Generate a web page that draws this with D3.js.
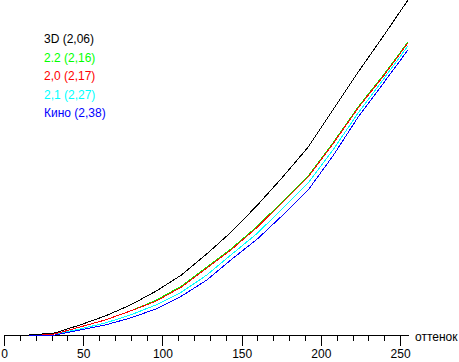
<!DOCTYPE html>
<html>
<head>
<meta charset="utf-8">
<script src="https://cdn.jsdelivr.net/npm/d3@7"></script>
<style>
  body { margin: 0; background: #fff; }
  svg text { font-family: "Liberation Sans", Arial, sans-serif; font-size: 12px; }
</style>
</head>
<body>
<div id="chart"></div>
<script>
// input levels (оттенок)
var levels = [0, 16, 32, 48, 64, 80, 96, 112, 128, 144, 160, 176, 192, 208, 224, 240, 255];

// relative brightness, % of max
var black3D  = [0, 0, 0.6, 3.0, 5.7, 9.0, 13.1, 17.9, 24.2, 31.0, 38.8, 47.2, 56.1, 67.5, 78.8, 89.6, 100.0];
var green22  = [0, 0, 0.3, 2.4, 4.5, 7.2, 10.4, 14.6, 20.3, 26.0, 32.5, 40.0, 47.5, 57.6, 68.4, 77.9, 87.5];
var red20    = [0, 0, 0.3, 2.4, 4.5, 7.2, 10.1, 14.3, 20.0, 25.7, 32.2, 39.7, 47.2, 57.3, 68.1, 77.6, 87.2];
var cyan21   = [0, 0, 0.3, 1.8, 3.6, 6.0, 9.0, 12.8, 17.9, 24.2, 30.4, 37.9, 45.4, 55.5, 66.6, 76.7, 86.3];
var blueKino = [0, 0, 0, 1.5, 3.0, 5.1, 7.8, 11.6, 16.4, 22.7, 28.7, 35.8, 43.3, 53.7, 65.4, 75.5, 85.1];

var seriesNames = ["3D (2,06)", "2.2 (2,16)", "2,0 (2,17)", "2,1 (2,27)", "Кино (2,38)"];
var seriesColors = ["#000000", "#00ff00", "#ff0000", "#00ffff", "#0000ff"];
var seriesValues = [black3D, green22, red20, cyan21, blueKino];

var xTicks = [0, 50, 100, 150, 200, 250];
var xTitle = "оттенок";

var width = 459, height = 362;

var svg = d3.select("#chart")
    .append("svg")
      .attr("width", width)
      .attr("height", height);

var x = d3.scaleLinear()
    .domain([0, 255])
    .range([4, 408]);

var y = d3.scaleLinear()
    .domain([0, 100])
    .range([335, 0]);

// minor ticks every 10
svg.append("g")
    .attr("transform", "translate(0,335)")
    .call(d3.axisBottom(x).tickValues(d3.range(0, 256, 10)).tickSize(6).tickSizeOuter(0).tickFormat(""))
    .call(g => g.selectAll("line,path").attr("stroke", "#000").attr("shape-rendering", "crispEdges"));

// major ticks with labels
svg.append("g")
    .attr("transform", "translate(0,335)")
    .call(d3.axisBottom(x).tickValues(xTicks).tickSize(11).tickSizeOuter(0).tickPadding(3))
    .call(g => g.select(".domain").remove())
    .call(g => g.selectAll("line").attr("stroke", "#000").attr("shape-rendering", "crispEdges"))
    .call(g => g.selectAll("text").attr("fill", "#000").style("font-size", "12px"));

svg.append("text")
    .attr("x", 415)
    .attr("y", 341)
    .attr("fill", "#000")
    .text(xTitle);

var line = d3.line()
    .x((d, i) => x(levels[i]))
    .y(d => y(d));

// draw order: lower curves first, red over green
var order = [4, 3, 1, 2, 0];
order.forEach(function(k) {
    svg.append("path")
        .datum(seriesValues[k])
        .attr("d", line)
        .attr("fill", "none")
        .attr("stroke", seriesColors[k])
        .attr("stroke-width", 1)
        .attr("shape-rendering", "crispEdges");
});

// legend
svg.selectAll(".legend")
    .data(seriesNames)
    .enter()
    .append("text")
      .attr("class", "legend")
      .attr("x", 44)
      .attr("y", (d, i) => 43 + i * 18.5)
      .attr("fill", (d, i) => seriesColors[i])
      .text(d => d);
</script>
</body>
</html>
